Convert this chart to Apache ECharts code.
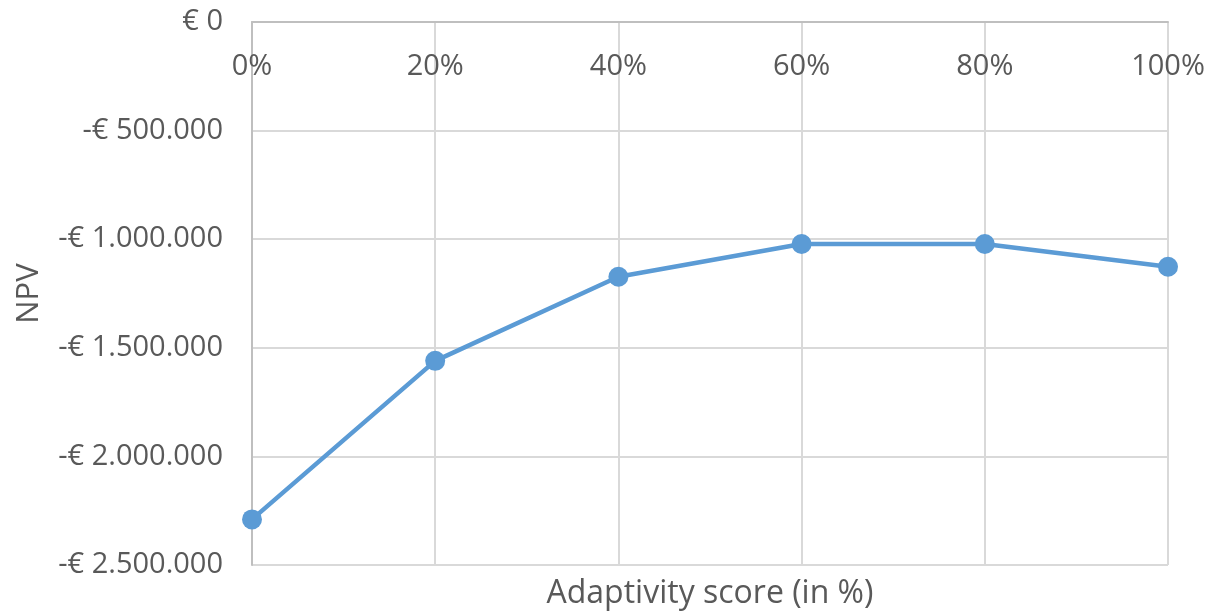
<!DOCTYPE html>
<html>
<head>
<meta charset="utf-8">
<title>NPV by adaptivity score</title>
<script src="https://cdn.jsdelivr.net/npm/echarts@6/dist/echarts.min.js"></script>
<style>
  html, body { margin: 0; padding: 0; background: #ffffff; }
  #chart { width: 1213px; height: 616px; }
</style>
</head>
<body>
<div id="chart"></div>
<script>
// Adaptivity score categories and the net present value for each
const scoreLabels = ['0%', '20%', '40%', '60%', '80%', '100%'];
const npvValues = [-2290000, -1560000, -1173000, -1022000, -1022000, -1127000];

// Value axis range
const yMin = -2500000;
const yMax = 0;
const yStep = 500000;

const textColor = '#595959';
const fontFamily = '"Open Sans", "Noto Sans", sans-serif';

function formatEuro(v) {
  const abs = Math.abs(v);
  const digits = String(Math.round(abs)).replace(/\B(?=(\d{3})+(?!\d))/g, '.');
  return (v < 0 ? '-' : '') + '€ ' + digits;
}

const chart = echarts.init(document.getElementById('chart'), null, { renderer: 'canvas' });

chart.setOption({
  backgroundColor: '#ffffff',
  animation: false,
  grid: { left: 252, right: 45, top: 22, bottom: 51, containLabel: false },
  xAxis: [
    {
      type: 'category',
      data: scoreLabels,
      position: 'top',
      boundaryGap: false,
      axisLine: { show: true, lineStyle: { color: '#bfbfbf', width: 2 } },
      axisTick: { show: false },
      axisLabel: {
        inside: true,
        margin: 30,
        color: textColor,
        fontFamily: fontFamily,
        fontSize: 29
      },
      splitLine: { show: true, lineStyle: { color: '#d9d9d9', width: 2 } }
    },
    {
      type: 'category',
      data: scoreLabels,
      position: 'bottom',
      boundaryGap: false,
      axisLine: { show: false },
      axisTick: { show: false },
      axisLabel: { show: false },
      splitLine: { show: false },
      name: 'Adaptivity score (in %)',
      nameLocation: 'middle',
      nameGap: 13,
      nameTextStyle: { color: textColor, fontFamily: fontFamily, fontSize: 32 }
    }
  ],
  yAxis: {
    type: 'value',
    min: yMin,
    max: yMax,
    interval: yStep,
    axisLine: { show: true, lineStyle: { color: '#bfbfbf', width: 2 } },
    axisTick: { show: false },
    axisLabel: {
      margin: 29,
      color: textColor,
      fontFamily: fontFamily,
      fontSize: 29,
      formatter: formatEuro
    },
    splitLine: { show: true, lineStyle: { color: '#d9d9d9', width: 2 } },
    name: 'NPV',
    nameLocation: 'middle',
    nameGap: 207,
    nameTextStyle: { color: textColor, fontFamily: fontFamily, fontSize: 31 }
  },
  series: [
    {
      type: 'line',
      xAxisIndex: 0,
      data: npvValues,
      symbol: 'circle',
      symbolSize: 20,
      lineStyle: { color: '#5b9bd5', width: 4.5 },
      itemStyle: { color: '#5b9bd5' },
      emphasis: { disabled: true },
      z: 3
    }
  ]
});
</script>
</body>
</html>
